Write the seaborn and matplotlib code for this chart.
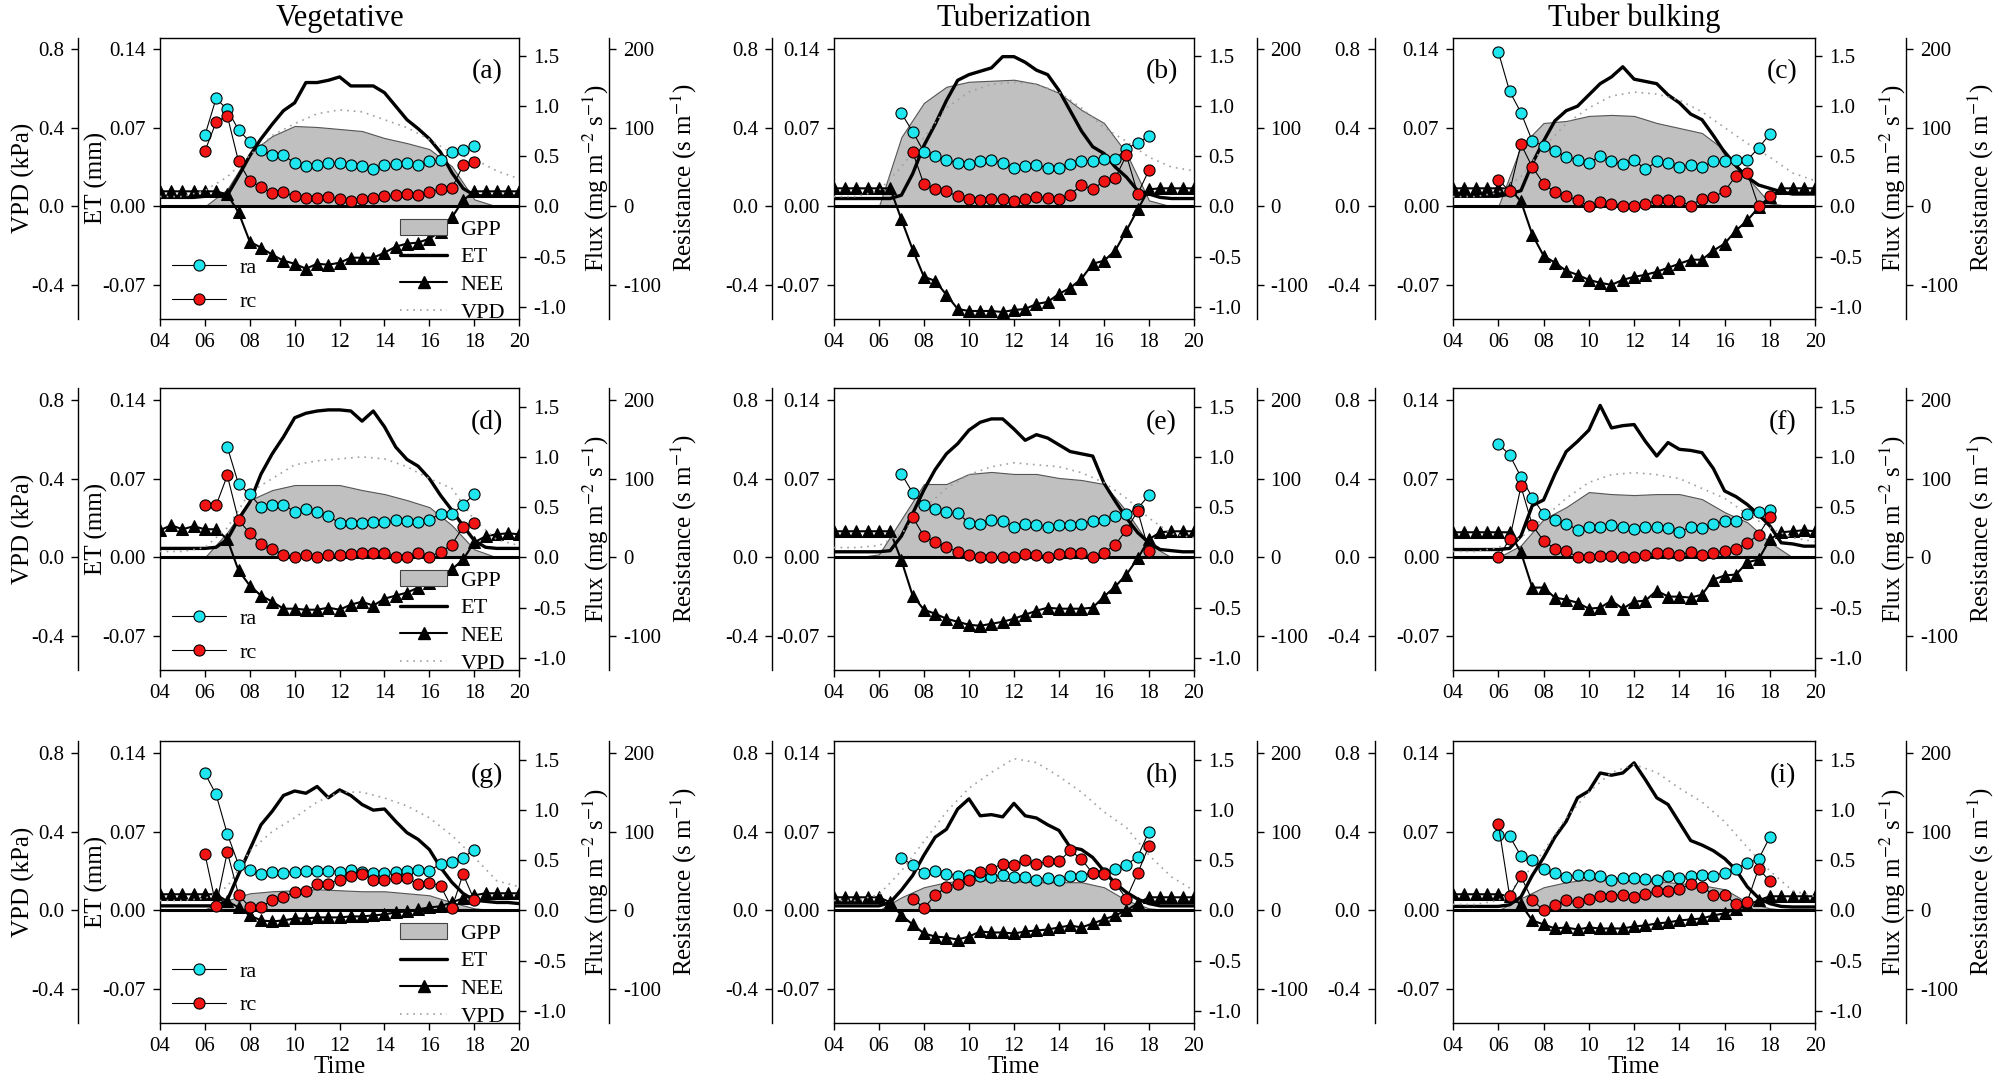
import numpy as np
import matplotlib
matplotlib.use("Agg")
import matplotlib.pyplot as plt
import seaborn as sns
from matplotlib.lines import Line2D
from matplotlib.patches import Patch

sns.set_theme(style="ticks")
plt.rcParams["font.family"] = ["Liberation Serif", "DejaVu Serif"]
plt.rcParams["mathtext.fontset"] = "stix"
plt.rcParams["axes.unicode_minus"] = False
for key in ["axes.edgecolor", "xtick.color", "ytick.color", "text.color", "axes.labelcolor"]:
    plt.rcParams[key] = "black"

nan = np.nan

# --- time bases (hours) ---
T_HALF = np.arange(4, 20.01, 0.5)   # NEE, ET
T_RES = np.arange(6, 18.01, 0.5)    # ra, rc
T_HOUR = np.arange(4, 21, 1)        # GPP, VPD

STAGES = ["Vegetative", "Tuberization", "Tuber bulking"]

# --- panel (a) ---
RA_A = [90, 137, 123, 97, 82, 71, 65, 65, 55, 51, 52, 55, 55, 52, 51, 48, 52, 54, 55, 52, 57, 59, 69, 71, 77]
RC_A = [70, 107, 115, 57, 32, 25, 17, 18, 13, 11, 11, 12, 9, 7, 9, 11, 13, 14, 16, 15, 18, 22, 23, 52, 56]
NEE_A = [0.15, 0.15, 0.15, 0.15, 0.15, 0.15, 0.12, -0.06, -0.35, -0.41, -0.48, -0.54, -0.57, -0.62, -0.57, -0.58,
         -0.56, -0.51, -0.51, -0.51, -0.46, -0.40, -0.37, -0.36, -0.32, -0.25, -0.11, 0.06, 0.15, 0.15, 0.15, 0.15, 0.15]
ET_A = [0.008, 0.008, 0.008, 0.008, 0.009, 0.009, 0.010, 0.027, 0.045, 0.060, 0.073, 0.085, 0.092, 0.110, 0.110, 0.112,
        0.115, 0.107, 0.107, 0.107, 0.101, 0.089, 0.077, 0.069, 0.060, 0.048, 0.030, 0.016, 0.010, 0.009, 0.009, 0.009, 0.009]
GPP_A = [0, 0, 0, 0.17, 0.53, 0.70, 0.80, 0.79, 0.77, 0.75, 0.68, 0.63, 0.57, 0.40, 0.07, 0, 0]
VPD_A = [0.05, 0.05, 0.08, 0.15, 0.26, 0.36, 0.42, 0.47, 0.49, 0.48, 0.44, 0.40, 0.34, 0.27, 0.24, 0.18, 0.14]

# --- panel (b) ---
RA_B = [nan, nan, 118, 95, 69, 64, 59, 55, 54, 58, 59, 55, 49, 51, 52, 49, 49, 54, 58, 58, 60, 60, 73, 81, 89]
RC_B = [nan, nan, nan, 69, 28, 22, 19, 13, 9, 8, 9, 10, 7, 10, 12, 11, 9, 15, 27, 22, 32, 36, 65, 16, 46]
NEE_B = [0.18, 0.18, 0.18, 0.18, 0.18, 0.18, -0.13, -0.43, -0.70, -0.74, -0.88, -1.02, -1.04, -1.04, -1.04, -1.05,
         -1.03, -1.02, -0.97, -0.95, -0.87, -0.81, -0.72, -0.57, -0.54, -0.44, -0.24, -0.03, 0.17, 0.18, 0.18, 0.18, 0.18]
ET_B = [0.007, 0.007, 0.007, 0.007, 0.007, 0.007, 0.010, 0.029, 0.054, 0.073, 0.094, 0.112, 0.117, 0.120, 0.123, 0.133,
        0.133, 0.128, 0.121, 0.117, 0.103, 0.085, 0.067, 0.053, 0.047, 0.035, 0.026, 0.014, 0.011, 0.008, 0.007, 0.007, 0.007]
GPP_B = [0, 0, 0, 0.69, 1.03, 1.19, 1.24, 1.25, 1.26, 1.22, 1.13, 0.96, 0.83, 0.53, 0.06, 0, 0]
VPD_B = [0.05, 0.05, 0.08, 0.20, 0.35, 0.50, 0.58, 0.62, 0.63, 0.62, 0.58, 0.50, 0.40, 0.33, 0.25, 0.20, 0.18]

# --- panel (c) ---
RA_C = [196, 146, 119, 83, 77, 70, 63, 59, 55, 64, 57, 54, 59, 47, 57, 55, 50, 52, 50, 57, 57, 59, 59, 74, 92]
RC_C = [34, 19, 79, 50, 29, 18, 13, 8, 0, 6, 3, 1, 1, 3, 8, 8, 7, 1, 10, 12, 19, 39, 43, 0, 13]
NEE_C = [0.18, 0.18, 0.18, 0.18, 0.18, 0.18, 0.05, -0.28, -0.49, -0.56, -0.64, -0.68, -0.73, -0.76, -0.78, -0.73,
         -0.70, -0.68, -0.65, -0.61, -0.57, -0.53, -0.53, -0.44, -0.37, -0.24, -0.14, -0.01, 0.09, 0.18, 0.18, 0.18, 0.18]
ET_C = [0.009, 0.009, 0.009, 0.009, 0.009, 0.011, 0.014, 0.038, 0.058, 0.076, 0.085, 0.089, 0.099, 0.109, 0.115, 0.124,
        0.113, 0.111, 0.109, 0.099, 0.092, 0.082, 0.077, 0.063, 0.048, 0.036, 0.026, 0.019, 0.016, 0.013, 0.011, 0.011, 0.011]
GPP_C = [0, 0, 0, 0.60, 0.83, 0.85, 0.90, 0.91, 0.90, 0.83, 0.78, 0.73, 0.56, 0.29, 0.03, 0, 0]
VPD_C = [0.05, 0.05, 0.07, 0.15, 0.30, 0.42, 0.50, 0.56, 0.58, 0.57, 0.54, 0.48, 0.40, 0.32, 0.25, 0.17, 0.13]

# --- panel (d) ---
RA_D = [nan, nan, 140, 93, 80, 64, 67, 67, 58, 62, 58, 52, 44, 44, 44, 45, 45, 47, 46, 45, 48, 55, 55, 67, 80]
RC_D = [67, 66, 104, 47, 31, 17, 11, 3, 1, 3, 1, 3, 3, 4, 6, 6, 6, 1, 1, 6, 1, 7, 16, 39, 44]
NEE_D = [0.27, 0.32, 0.28, 0.31, 0.28, 0.28, 0.18, -0.13, -0.28, -0.38, -0.44, -0.51, -0.51, -0.52, -0.52, -0.50,
         -0.52, -0.47, -0.44, -0.48, -0.41, -0.38, -0.35, -0.30, -0.25, -0.18, -0.12, -0.02, 0.15, 0.21, 0.23, 0.24, 0.23]
ET_D = [0.008, 0.008, 0.008, 0.008, 0.008, 0.009, 0.016, 0.034, 0.049, 0.074, 0.092, 0.107, 0.124, 0.128, 0.130, 0.131,
        0.131, 0.130, 0.121, 0.130, 0.116, 0.098, 0.087, 0.081, 0.070, 0.055, 0.042, 0.028, 0.015, 0.009, 0.008, 0.008, 0.008]
GPP_D = [0, 0, 0, 0.25, 0.57, 0.67, 0.72, 0.72, 0.72, 0.67, 0.63, 0.57, 0.50, 0.32, 0.08, 0, 0]
VPD_D = [0.03, 0.03, 0.05, 0.15, 0.33, 0.40, 0.47, 0.49, 0.50, 0.51, 0.50, 0.46, 0.40, 0.35, 0.19, 0.09, 0.06]

# --- panel (e) ---
RA_E = [nan, nan, 106, 82, 67, 62, 57, 56, 44, 43, 48, 46, 39, 43, 41, 39, 41, 41, 43, 46, 47, 52, 55, 62, 79]
RC_E = [nan, nan, nan, 51, 27, 19, 13, 7, 3, 0, 1, 1, 0, 4, 3, 1, 4, 5, 5, 1, 6, 16, 35, 59, 8]
NEE_E = [0.26, 0.26, 0.26, 0.26, 0.26, 0.26, -0.03, -0.38, -0.52, -0.56, -0.61, -0.64, -0.67, -0.68, -0.66, -0.64,
         -0.61, -0.57, -0.53, -0.50, -0.51, -0.51, -0.51, -0.50, -0.39, -0.29, -0.17, -0.01, 0.18, 0.25, 0.26, 0.26, 0.26]
ET_E = [0.005, 0.005, 0.005, 0.005, 0.005, 0.006, 0.019, 0.039, 0.060, 0.078, 0.092, 0.101, 0.113, 0.120, 0.123, 0.123,
        0.114, 0.104, 0.109, 0.106, 0.100, 0.094, 0.092, 0.090, 0.066, 0.050, 0.035, 0.022, 0.013, 0.007, 0.006, 0.005, 0.005]
GPP_E = [0, 0, 0.03, 0.38, 0.73, 0.73, 0.83, 0.85, 0.83, 0.83, 0.79, 0.77, 0.73, 0.46, 0.13, 0, 0]
VPD_E = [0.05, 0.05, 0.06, 0.12, 0.25, 0.35, 0.42, 0.46, 0.48, 0.47, 0.46, 0.43, 0.38, 0.30, 0.20, 0.12, 0.10]

# --- panel (f) ---
RA_F = [144, 130, 102, 76, 55, 47, 43, 35, 39, 39, 41, 38, 36, 39, 38, 37, 32, 39, 37, 42, 46, 46, 55, 57, 60]
RC_F = [0, 23, 90, 41, 21, 11, 8, 1, 1, 2, 2, 1, 1, 3, 5, 5, 3, 7, 3, 5, 8, 11, 18, 29, 51]
NEE_F = [0.25, 0.25, 0.25, 0.25, 0.25, 0.25, 0.05, -0.30, -0.30, -0.40, -0.42, -0.45, -0.51, -0.50, -0.43, -0.51,
         -0.44, -0.43, -0.33, -0.39, -0.39, -0.40, -0.37, -0.22, -0.18, -0.17, -0.05, -0.02, 0.18, 0.25, 0.26, 0.27, 0.26]
ET_F = [0.007, 0.007, 0.007, 0.007, 0.007, 0.008, 0.019, 0.046, 0.051, 0.074, 0.094, 0.103, 0.113, 0.135, 0.115, 0.117,
        0.118, 0.103, 0.090, 0.102, 0.096, 0.095, 0.093, 0.079, 0.059, 0.054, 0.047, 0.038, 0.028, 0.013, 0.012, 0.010, 0.010]
GPP_F = [0, 0, 0, 0.12, 0.38, 0.50, 0.65, 0.63, 0.62, 0.63, 0.63, 0.58, 0.45, 0.35, 0.15, 0, 0]
VPD_F = [0.03, 0.03, 0.05, 0.10, 0.20, 0.30, 0.38, 0.42, 0.43, 0.42, 0.40, 0.35, 0.30, 0.22, 0.15, 0.10, 0.08]

# --- panel (g) ---
RA_G = [174, 147, 97, 58, 51, 46, 49, 48, 49, 50, 50, 50, 49, 51, 49, 47, 48, 49, 50, 51, 50, 59, 61, 67, 77]
RC_G = [72, 6, 74, 20, 4, 4, 13, 17, 23, 24, 33, 34, 39, 44, 46, 39, 38, 41, 41, 33, 35, 31, 3, 46, 13]
NEE_G = [0.16, 0.16, 0.16, 0.16, 0.16, 0.16, 0.09, 0.03, -0.05, -0.10, -0.11, -0.10, -0.08, -0.08, -0.07, -0.07,
         -0.07, -0.06, -0.06, -0.05, -0.04, -0.02, -0.01, 0.01, 0.03, 0.04, 0.08, 0.12, 0.15, 0.17, 0.17, 0.17, 0.17]
ET_G = [0.004, 0.004, 0.004, 0.004, 0.004, 0.004, 0.009, 0.032, 0.054, 0.076, 0.088, 0.102, 0.106, 0.104, 0.110, 0.100,
        0.107, 0.102, 0.094, 0.089, 0.090, 0.079, 0.069, 0.063, 0.054, 0.038, 0.025, 0.015, 0.009, 0.008, 0.007, 0.007, 0.006]
GPP_G = [0, 0, 0.01, 0.10, 0.17, 0.19, 0.20, 0.21, 0.20, 0.19, 0.19, 0.17, 0.15, 0.08, 0.02, 0, 0]
VPD_G = [0.05, 0.05, 0.06, 0.12, 0.30, 0.40, 0.47, 0.55, 0.60, 0.60, 0.57, 0.53, 0.47, 0.38, 0.27, 0.15, 0.12]

# --- panel (h) ---
RA_H = [nan, nan, 67, 57, 48, 50, 46, 44, 45, 43, 42, 45, 42, 42, 39, 41, 38, 43, 44, 47, 48, 53, 58, 68, 100]
RC_H = [nan, nan, nan, 15, 3, 19, 30, 34, 39, 49, 53, 59, 58, 64, 59, 62, 62, 76, 65, 47, 46, 34, 15, 47, 82]
NEE_H = [0.13, 0.13, 0.13, 0.13, 0.13, 0.08, -0.05, -0.14, -0.23, -0.26, -0.27, -0.29, -0.26, -0.21, -0.22, -0.22,
         -0.23, -0.21, -0.20, -0.19, -0.17, -0.15, -0.17, -0.13, -0.09, -0.05, 0.0, 0.07, 0.13, 0.13, 0.13, 0.13, 0.13]
ET_H = [0.004, 0.004, 0.004, 0.004, 0.004, 0.007, 0.018, 0.031, 0.049, 0.065, 0.072, 0.090, 0.099, 0.084, 0.085, 0.083,
        0.095, 0.084, 0.082, 0.076, 0.071, 0.056, 0.054, 0.047, 0.035, 0.024, 0.016, 0.010, 0.006, 0.004, 0.004, 0.004, 0.004]
GPP_H = [0, 0, 0, 0.13, 0.23, 0.28, 0.30, 0.30, 0.29, 0.28, 0.28, 0.28, 0.23, 0.10, 0.02, 0, 0]
VPD_H = [0.05, 0.05, 0.08, 0.20, 0.35, 0.50, 0.62, 0.70, 0.77, 0.75, 0.68, 0.60, 0.50, 0.42, 0.28, 0.17, 0.10]

# --- panel (i) ---
RA_I = [95, 94, 69, 64, 53, 47, 42, 45, 45, 43, 39, 41, 41, 40, 38, 43, 41, 43, 45, 44, 48, 53, 60, 65, 93]
RC_I = [110, 18, 43, 13, 0, 7, 13, 10, 15, 18, 18, 20, 17, 21, 24, 24, 27, 33, 30, 20, 20, 8, 11, 53, 37]
NEE_I = [0.16, 0.16, 0.16, 0.16, 0.16, 0.14, 0.06, -0.10, -0.14, -0.18, -0.17, -0.19, -0.17, -0.18, -0.18, -0.18,
         -0.16, -0.15, -0.13, -0.12, -0.10, -0.09, -0.08, -0.05, -0.03, 0.01, 0.05, 0.10, 0.14, 0.14, 0.14, 0.14, 0.14]
ET_I = [0.0035, 0.0035, 0.0035, 0.0035, 0.0035, 0.005, 0.012, 0.031, 0.047, 0.065, 0.079, 0.100, 0.106, 0.122, 0.120, 0.122,
        0.131, 0.116, 0.100, 0.094, 0.078, 0.062, 0.058, 0.053, 0.046, 0.036, 0.021, 0.011, 0.006, 0.0035, 0.003, 0.003, 0.003]
GPP_I = [0, 0, 0, 0.12, 0.23, 0.28, 0.31, 0.31, 0.31, 0.29, 0.27, 0.25, 0.21, 0.08, 0.02, 0, 0]
VPD_I = [0.03, 0.03, 0.05, 0.15, 0.30, 0.47, 0.60, 0.70, 0.74, 0.70, 0.62, 0.55, 0.45, 0.32, 0.20, 0.10, 0.07]

PANELS = [
    ("a", 0, 0, RA_A, RC_A, NEE_A, ET_A, GPP_A, VPD_A),
    ("b", 0, 1, RA_B, RC_B, NEE_B, ET_B, GPP_B, VPD_B),
    ("c", 0, 2, RA_C, RC_C, NEE_C, ET_C, GPP_C, VPD_C),
    ("d", 1, 0, RA_D, RC_D, NEE_D, ET_D, GPP_D, VPD_D),
    ("e", 1, 1, RA_E, RC_E, NEE_E, ET_E, GPP_E, VPD_E),
    ("f", 1, 2, RA_F, RC_F, NEE_F, ET_F, GPP_F, VPD_F),
    ("g", 2, 0, RA_G, RC_G, NEE_G, ET_G, GPP_G, VPD_G),
    ("h", 2, 1, RA_H, RC_H, NEE_H, ET_H, GPP_H, VPD_H),
    ("i", 2, 2, RA_I, RC_I, NEE_I, ET_I, GPP_I, VPD_I),
]

CYAN = "#1fe6ee"
RED = "#f01414"
GRAY = "#c0c0c0"
VPD_COLOR = "#a0a0a0"
VPD_DASH = (0, (1, 3))

# axis ranges share the zero level
ET_LIM = (-0.10, 0.15)
VPD_LIM = (ET_LIM[0] * 0.8 / 0.14, ET_LIM[1] * 0.8 / 0.14)
RES_LIM = (ET_LIM[0] * 200 / 0.14, ET_LIM[1] * 200 / 0.14)
FLUX_LIM = (ET_LIM[0] * 11.2, ET_LIM[1] * 11.2)

# layout (figure fractions)
COL_X = [0.0797, 0.4155, 0.7240]
COL_W = [0.1790, 0.1794, 0.1804]
ROW_Y = [0.7065, 0.3836, 0.0589]
ROW_H = 0.2590
VPD_OFF = [0.228, 0.171, 0.217]
RES_OFF = [0.251, 0.174, 0.251]

TICK_FS = 15
LABEL_FS = 18

fig = plt.figure(figsize=(20.07, 10.87), dpi=100)


def style_axis(a, lim, ticks, labels):
    a.set_ylim(*lim)
    a.set_yticks(ticks)
    a.set_yticklabels(labels)
    a.tick_params(axis="y", direction="out", length=5, width=1, labelsize=TICK_FS, pad=5)


def draw_panel(letter, row, col, ra, rc, nee, et, gpp, vpd):
    ax = fig.add_axes([COL_X[col], ROW_Y[row], COL_W[col], ROW_H])
    ax_flux = ax.twinx()
    ax_vpd = ax.twinx()
    ax_res = ax.twinx()
    ax_flux.set_zorder(1)
    ax.set_zorder(2)
    ax_vpd.set_zorder(3)
    ax_res.set_zorder(4)
    ax.patch.set_visible(False)

    # GPP and NEE on the flux axis
    ax_flux.fill_between(T_HOUR, 0, gpp, facecolor=GRAY, edgecolor="#555555", lw=0.8)
    sns.lineplot(x=T_HALF, y=nee, ax=ax_flux, color="black", lw=1.5, marker="^", markersize=8,
                 markerfacecolor="black", markeredgecolor="black", estimator=None)

    # ET
    ax.axhline(0, color="black", lw=2.2)
    sns.lineplot(x=T_HALF, y=et, ax=ax, color="black", lw=2.4, estimator=None)

    # VPD
    sns.lineplot(x=T_HOUR, y=vpd, ax=ax_vpd, color=VPD_COLOR, lw=1.2, linestyle=VPD_DASH, estimator=None)

    # resistances
    sns.lineplot(x=T_RES, y=ra, ax=ax_res, color="black", lw=0.8, marker="o", markersize=8,
                 markerfacecolor=CYAN, markeredgecolor="black", markeredgewidth=0.8, estimator=None)
    sns.lineplot(x=T_RES, y=rc, ax=ax_res, color="black", lw=0.8, marker="o", markersize=8,
                 markerfacecolor=RED, markeredgecolor="black", markeredgewidth=0.8, estimator=None)

    # x axis
    ax.set_xlim(4, 20)
    ax.set_xticks(range(4, 21, 2))
    ax.set_xticklabels([f"{h:02d}" for h in range(4, 21, 2)])
    ax.tick_params(axis="x", direction="out", length=5, width=1, labelsize=TICK_FS, pad=5)

    style_axis(ax, ET_LIM, [-0.07, 0, 0.07, 0.14], ["-0.07", "0.00", "0.07", "0.14"])
    style_axis(ax_flux, FLUX_LIM, [-1.0, -0.5, 0, 0.5, 1.0, 1.5], ["-1.0", "-0.5", "0.0", "0.5", "1.0", "1.5"])
    style_axis(ax_vpd, VPD_LIM, [-0.4, 0, 0.4, 0.8], ["-0.4", "0.0", "0.4", "0.8"])
    style_axis(ax_res, RES_LIM, [-100, 0, 100, 200], ["-100", "0", "100", "200"])

    # spines
    for s in ax.spines.values():
        s.set_linewidth(1)
        s.set_color("black")
    ax.spines["right"].set_visible(False)
    for a in (ax_flux, ax_vpd, ax_res):
        for s in a.spines.values():
            s.set_visible(False)
            s.set_linewidth(1)
            s.set_color("black")
    ax_flux.spines["right"].set_visible(True)
    ax_vpd.spines["left"].set_visible(True)
    ax_vpd.spines["left"].set_position(("axes", -VPD_OFF[col]))
    ax_vpd.yaxis.set_ticks_position("left")
    ax_vpd.yaxis.set_label_position("left")
    ax_res.spines["right"].set_visible(True)
    ax_res.spines["right"].set_position(("axes", 1 + RES_OFF[col]))

    # labels (left labels anchored at their right edge, right labels at their left edge)
    if row == 0:
        ax.set_title(STAGES[col], fontsize=22, pad=8)
    if row == 2:
        ax.set_xlabel("Time", fontsize=LABEL_FS, labelpad=0)
    if col == 0:
        ax.set_ylabel("ET (mm)", fontsize=LABEL_FS)
        ax.yaxis.set_label_coords(-0.145, 0.5)
        ax_vpd.set_ylabel("VPD (kPa)", fontsize=LABEL_FS)
        ax_vpd.yaxis.set_label_coords(-0.348, 0.5)
    if col in (0, 2):
        ax_flux.set_ylabel("Flux (mg m$^{-2}$ s$^{-1}$)", fontsize=LABEL_FS)
        ax_flux.yaxis.set_label_coords(1.172, 0.5)
        ax_res.set_ylabel("Resistance (s m$^{-1}$)", fontsize=LABEL_FS)
        ax_res.yaxis.set_label_coords(1.415, 0.5)

    ax_res.text(0.91, 0.88, f"({letter})", transform=ax.transAxes, fontsize=20, ha="center", va="center")

    if col == 0:
        res_handles = [
            Line2D([], [], color="black", lw=0.8, marker="o", ms=8, mfc=CYAN, mec="black", mew=0.8),
            Line2D([], [], color="black", lw=0.8, marker="o", ms=8, mfc=RED, mec="black", mew=0.8),
        ]
        leg1 = ax_res.legend(res_handles, ["ra", "rc"], loc="lower left", bbox_to_anchor=(0.01, -0.005),
                             frameon=False, fontsize=16, handlelength=2.4, handletextpad=0.6,
                             labelspacing=0.6, borderaxespad=0)
        ax_res.add_artist(leg1)
        flux_handles = [
            Patch(facecolor=GRAY, edgecolor="#444444", lw=0.8),
            Line2D([], [], color="black", lw=2.4),
            Line2D([], [], color="black", lw=1.5, marker="^", ms=8),
            Line2D([], [], color=VPD_COLOR, lw=1.2, linestyle=VPD_DASH),
        ]
        ax_res.legend(flux_handles, ["GPP", "ET", "NEE", "VPD"], loc="lower right", bbox_to_anchor=(0.985, -0.045),
                      frameon=False, fontsize=16, handlelength=2.1, handletextpad=0.6,
                      labelspacing=0.32, borderaxespad=0)


for p in PANELS:
    draw_panel(*p)

fig.savefig("out.png", dpi=100, facecolor="white")
